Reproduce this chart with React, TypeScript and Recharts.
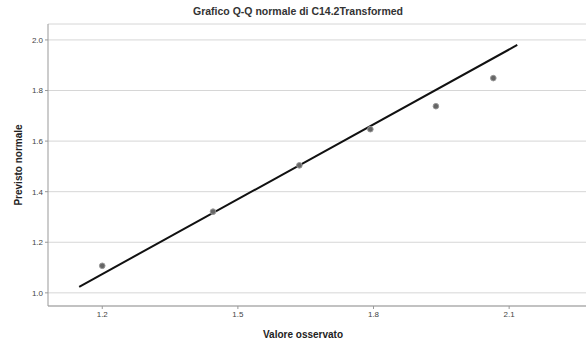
import React from 'react';
import {
  ScatterChart,
  Scatter,
  XAxis,
  YAxis,
  CartesianGrid,
  ReferenceLine,
} from 'recharts';

const observed = [1.2, 1.445, 1.636, 1.793, 1.938, 2.065];
const expected = [1.107, 1.321, 1.504, 1.647, 1.738, 1.849];

// reference line endpoints
const lineX = [1.149, 2.118];
const lineY = [1.024, 1.98];

const xTicks = [1.2, 1.5, 1.8, 2.1];
const yTicks = [1.0, 1.2, 1.4, 1.6, 1.8, 2.0];

const title = 'Grafico Q-Q normale di C14.2Transformed';
const xLabel = 'Valore osservato';
const yLabel = 'Previsto normale';

const points = observed.map((x, i) => ({ x, y: expected[i] }));

const font = '"Liberation Sans", Arial, sans-serif';

const Dot = (props: any) => {
  const { cx, cy } = props;
  if (cx == null || cy == null) return <g />;
  return <circle cx={cx} cy={cy} r={2.8} fill="#666" stroke="#999" strokeWidth={1} />;
};

const App: React.FC = () => {
  return (
    <div style={{ position: 'absolute', left: 0, top: 0, width: 588, height: 340, background: '#fff', fontFamily: font }}>
      <div
        style={{
          position: 'absolute',
          left: 0,
          width: 596,
          top: 5,
          textAlign: 'center',
          fontSize: 10.5,
          fontWeight: 'bold',
          color: '#333',
        }}
      >
        {title}
      </div>
      <ScatterChart width={588} height={340} margin={{ top: 24, right: 2, bottom: 0, left: 0 }}>
        <CartesianGrid horizontal vertical={false} stroke="#d6d6d6" strokeWidth={1} />
        <XAxis
          type="number"
          dataKey="x"
          domain={[1.08, 2.27]}
          ticks={xTicks}
          tickFormatter={(v: number) => v.toFixed(1)}
          height={34}
          tickSize={3}
          tick={{ fontSize: 8, fill: '#444', fontFamily: font }}
          stroke="#999"
          label={{ value: xLabel, position: 'insideBottom', offset: 2, dx: -14, style: { fontSize: 10, fontWeight: 'bold', fill: '#222', fontFamily: font } }}
        />
        <YAxis
          type="number"
          dataKey="y"
          domain={[0.948, 2.063]}
          ticks={yTicks}
          tickFormatter={(v: number) => v.toFixed(1)}
          width={48}
          tickSize={3}
          tick={{ fontSize: 8, fill: '#444', fontFamily: font }}
          stroke="#999"
          label={{ value: yLabel, angle: -90, position: 'insideLeft', offset: 18, dy: 0, style: { textAnchor: 'middle', fontSize: 10, fontWeight: 'bold', fill: '#222', fontFamily: font } }}
        />
        <ReferenceLine
          segment={[
            { x: lineX[0], y: lineY[0] },
            { x: lineX[1], y: lineY[1] },
          ]}
          stroke="#111"
          strokeWidth={2}
        />
        <Scatter data={points} shape={Dot} isAnimationActive={false} />
      </ScatterChart>
    </div>
  );
};

export default App;
